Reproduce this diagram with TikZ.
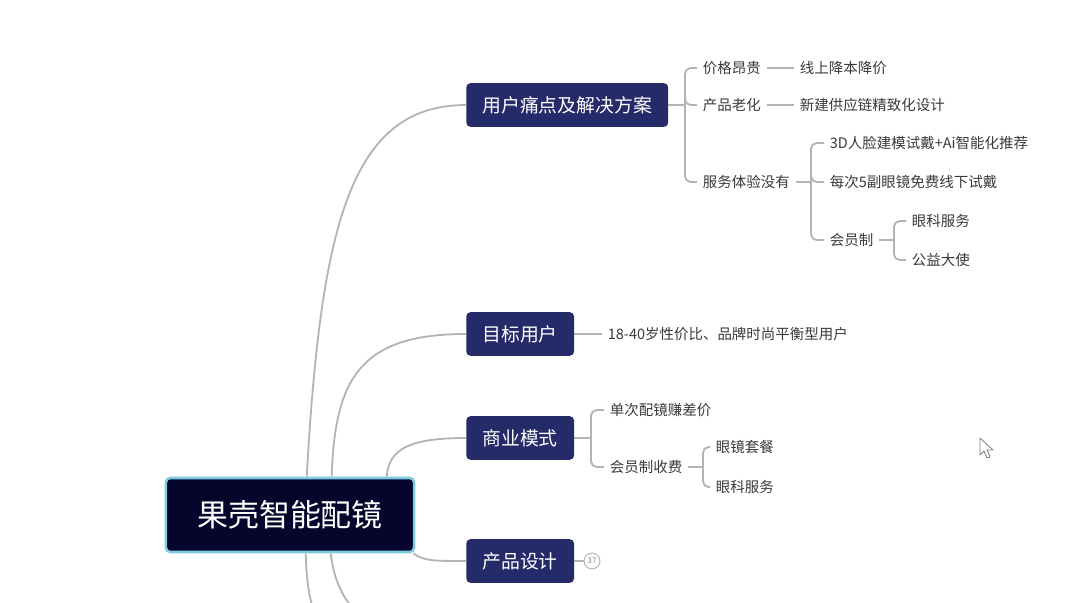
\documentclass[tikz,border=0pt]{standalone}
\usepackage{fontspec}
\setmainfont{Noto Sans CJK SC}
\usetikzlibrary{calc}
\definecolor{rootfill}{HTML}{06062C}
\definecolor{rootedge}{HTML}{7ECCE2}
\definecolor{navy}{HTML}{252A69}
\definecolor{leafgray}{HTML}{3A3A3A}
\definecolor{linegray}{HTML}{B4B4B4}

\begin{document}
\begin{tikzpicture}[x=0.025cm, y=-0.025cm,
	root/.style={draw=rootedge, line width=1.8pt, fill=rootfill, text=white, rounded corners=3pt,
		minimum width=6.2cm, minimum height=1.85cm, font=\fontsize{22}{26}\selectfont},
	branch/.style={fill=navy, text=white, rounded corners=3pt, anchor=west,
		minimum height=31pt, inner xsep=11.5pt, font=\fontsize{13.4}{16}\selectfont},
	leaf/.style={text=leafgray, anchor=west, inner xsep=4pt, inner ysep=2pt,
		font=\fontsize{10.3}{12}\selectfont},
	conn/.style={draw=linegray, line width=1.3pt},
	fork/.style={conn, rounded corners=4pt},
	badge/.style={circle, draw=linegray, line width=0.7pt, text=gray, inner sep=0pt,
		minimum size=11.3pt, font=\fontsize{5.5}{6}\selectfont}]
	\clip (0,0) rectangle (1080,603);
	\fill[white] (0,0) rectangle (1080,603);
	% root
	\node[root] (root) at (290,515) {果壳智能配镜};
	% main branches
	\node[branch] (pain) at (466,105) {用户痛点及解决方案};
	\node[branch] (target) at (466,334) {目标用户};
	\node[branch] (business) at (466,438) {商业模式};
	\node[branch] (design) at (466,561) {产品设计};
	\node[badge] (count) at (592,561) {37};
	% branches further down, off the page
	\coordinate (low1) at (466,680);
	\coordinate (low2) at (466,650);
	% root to branches
	\draw[conn] ($(root.north west)+(142,0)$) .. controls +(14,-250) and +(-116,0) .. (pain.west);
	\draw[conn] ($(root.north west)+(167,0)$) .. controls +(3,-98) and +(-106,0) .. (target.west);
	\draw[conn] ($(root.north west)+(222,0)$) .. controls +(2,-28) and +(-56,0) .. (business.west);
	\draw[conn] ($(root.south east)+(-2,0)$) .. controls +(10,8) and +(-30,0) .. (design.west);
	\draw[conn] ($(root.south west)+(141,0)$) .. controls +(2,68) and +(-146,0) .. (low1);
	\draw[conn] ($(root.south west)+(166,0)$) .. controls +(6,58) and +(-86,0) .. (low2);
	\draw[conn, line width=0.8pt] (design.east) -- (count.west);

	% pain points and solutions
	\node[leaf] (price) at (697,68) {价格昂贵};
	\node[leaf] (aging) at (697,105) {产品老化};
	\node[leaf] (service) at (697,182) {服务体验没有};
	\node[leaf] (online) at (794,68) {线上降本降价};
	\node[leaf] (supply) at (794,105) {新建供应链精致化设计};
	\node[leaf] (face) at (824,143) {3D人脸建模试戴+Ai智能化推荐};
	\node[leaf] (trial) at (824,182) {每次5副眼镜免费线下试戴};
	\node[leaf] (member) at (824,240) {会员制};
	\node[leaf] (eyecare) at (906,221) {眼科服务};
	\node[leaf] (charity) at (906,260) {公益大使};
	\coordinate (painfork) at (685,105);
	\coordinate (servicefork) at (811,182);
	\coordinate (memberfork) at (894,240);
	\draw[conn] (pain.east) -- (painfork);
	\foreach \leafname in {price, aging, service}
		\draw[fork] (painfork) |- (\leafname.west);
	\draw[conn] (price.east) -- (online.west);
	\draw[conn] (aging.east) -- (supply.west);
	\draw[conn] (service.east) -- (servicefork);
	\foreach \leafname in {face, trial, member}
		\draw[fork] (servicefork) |- (\leafname.west);
	\draw[conn] (member.east) -- (memberfork);
	\foreach \leafname in {eyecare, charity}
		\draw[fork] (memberfork) |- (\leafname.west);

	% target users
	\node[leaf] (users) at (602,334) {18-40岁性价比、品牌时尚平衡型用户};
	\draw[conn] (target.east) -- (users.west);

	% business model
	\node[leaf] (once) at (604,410) {单次配镜赚差价};
	\node[leaf] (fee) at (604,467) {会员制收费};
	\node[leaf] (package) at (710,447) {眼镜套餐};
	\node[leaf] (eyecare2) at (710,487) {眼科服务};
	\coordinate (bizfork) at (591,438);
	\coordinate (feefork) at (703,467);
	\draw[conn] (business.east) -- (bizfork);
	\foreach \leafname in {once, fee}
		\draw[fork] (bizfork) |- (\leafname.west);
	\draw[conn] (fee.east) -- (feefork);
	\foreach \leafname in {package, eyecare2}
		\draw[fork] (feefork) |- (\leafname.west);

	% mouse pointer
	\draw[fill=white, draw=gray, line width=0.6pt, line join=round]
		(980,438) -- (980,455) -- (984,451) -- (987,458) -- (990,457) -- (987,450) -- (993,450) -- cycle;
\end{tikzpicture}
\end{document}
